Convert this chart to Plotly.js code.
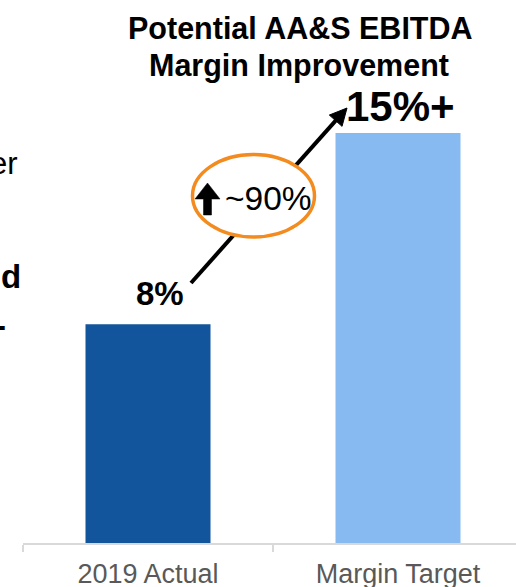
<!DOCTYPE html>
<html>
<head>
<meta charset="utf-8">
<script src="https://cdn.plot.ly/plotly-3.0.1.min.js"></script>
<style>html,body{margin:0;padding:0;background:#fff;}#chart{width:516px;height:587px;}</style>
</head>
<body>
<div id="chart"></div>
<script>
// Data
const categories = ['2019 Actual', 'Margin Target'];
const marginValues = [8, 15];
const valueLabels = ['8%', '15%+'];
const barColors = ['#12559D', '#88BAF2'];
const titleLines = ['Potential AA&S EBITDA', 'Margin Improvement'];
const changeLabel = '~90%';
const sideTexts = ['er', 'd', '-'];

// Layout geometry (pixels)
const W = 516, H = 587, ML = 23, MR = 0, MT = 0, MB = 44;
const PW = W - ML - MR, PH = H - MT - MB;
const fx = p => (p - ML) / PW;
const fy = p => (H - MB - p) / PH;
const F = 'Liberation Sans, Arial, sans-serif';

// arrow geometry
const a0 = [191, 283], tip = [347, 108];
const dx = tip[0] - a0[0], dy = tip[1] - a0[1], L = Math.hypot(dx, dy);
const ux = dx / L, uy = dy / L, nx = -uy, ny = ux;
const hl = 17, hw = 8.5;
const bc = [tip[0] - hl * ux, tip[1] - hl * uy];
const c1 = [bc[0] + hw * nx, bc[1] + hw * ny], c2 = [bc[0] - hw * nx, bc[1] - hw * ny];
const P = pt => fx(pt[0]) + ' ' + fy(pt[1]);

// up arrow inside ellipse
const ua = [[207.5, 183], [220, 199], [211.5, 199], [211.5, 215], [203.5, 215], [203.5, 199], [195, 199]];
const uaPath = 'M ' + ua.map(P).join(' L ') + ' Z';

const trace = {
  type: 'bar',
  x: categories,
  y: marginValues,
  marker: {color: barColors},
  width: 0.5,
  hoverinfo: 'none'
};

const layout = {
  width: W, height: H,
  margin: {l: ML, r: MR, t: MT, b: MB, pad: 0},
  paper_bgcolor: '#fff', plot_bgcolor: '#fff',
  showlegend: false,
  bargap: 0.5,
  xaxis: {
    type: 'category',
    range: [-0.5, -0.5 + PW / 250],
    showline: true, linecolor: '#d9d9d9', linewidth: 1.5,
    ticks: 'outside', tickson: 'boundaries', ticklen: 7, tickcolor: '#d9d9d9', tickwidth: 1.5,
    ticklabelstandoff: 6,
    tickfont: {family: F, size: 27, color: '#595959'},
    showgrid: false, zeroline: false, fixedrange: true
  },
  yaxis: {visible: false, range: [0, 19.86], fixedrange: true},
  shapes: [
    {type: 'line', xref: 'paper', yref: 'paper', x0: fx(a0[0]), y0: fy(a0[1]), x1: fx(bc[0] + 2 * ux), y1: fy(bc[1] + 2 * uy),
      line: {color: '#000', width: 4}},
    {type: 'path', xref: 'paper', yref: 'paper', path: 'M ' + P(tip) + ' L ' + P(c1) + ' L ' + P(c2) + ' Z',
      fillcolor: '#000', line: {color: '#000', width: 1}},
    {type: 'circle', xref: 'paper', yref: 'paper', x0: fx(192.5), x1: fx(314.5), y0: fy(237), y1: fy(154.5),
      fillcolor: '#fff', line: {color: '#F38B1F', width: 3.5}},
    {type: 'path', xref: 'paper', yref: 'paper', path: uaPath, fillcolor: '#000', line: {color: '#000', width: 0.5}}
  ],
  annotations: [
    {xref: 'paper', yref: 'paper', x: fx(300), y: fy(28), text: '<b>' + titleLines[0] + '</b>', showarrow: false,
      xanchor: 'center', yanchor: 'middle', font: {family: F, size: 30.5, color: '#000'}},
    {xref: 'paper', yref: 'paper', x: fx(299), y: fy(65), text: '<b>' + titleLines[1] + '</b>', showarrow: false,
      xanchor: 'center', yanchor: 'middle', font: {family: F, size: 30.5, color: '#000'}},
    {x: categories[0], y: marginValues[0], text: '<b>' + valueLabels[0] + '</b>', showarrow: false,
      xanchor: 'center', yanchor: 'bottom', xshift: 12, yshift: 10, font: {family: F, size: 33, color: '#000'}},
    {x: categories[1], y: marginValues[1], text: '<b>' + valueLabels[1] + '</b>', showarrow: false,
      xanchor: 'center', yanchor: 'bottom', xshift: 2, yshift: 1, font: {family: F, size: 42, color: '#000'}},
    {xref: 'paper', yref: 'paper', x: fx(268.5), y: fy(199), text: changeLabel, showarrow: false,
      xanchor: 'center', yanchor: 'middle', font: {family: F, size: 33.5, color: '#000'}},
    {xref: 'paper', yref: 'paper', x: fx(20), y: fy(163), text: sideTexts[0], showarrow: false,
      xanchor: 'right', yanchor: 'middle', font: {family: F, size: 31, color: '#000'}},
    {xref: 'paper', yref: 'paper', x: fx(23), y: fy(276), text: '<b>' + sideTexts[1] + '</b>', showarrow: false,
      xanchor: 'right', yanchor: 'middle', font: {family: F, size: 33, color: '#000'}},
    {xref: 'paper', yref: 'paper', x: fx(8), y: fy(325), text: '<b>' + sideTexts[2] + '</b>', showarrow: false,
      xanchor: 'right', yanchor: 'middle', font: {family: F, size: 33, color: '#000'}}
  ]
};

Plotly.newPlot('chart', [trace], layout, {staticPlot: true, displayModeBar: false});
</script>
</body>
</html>
